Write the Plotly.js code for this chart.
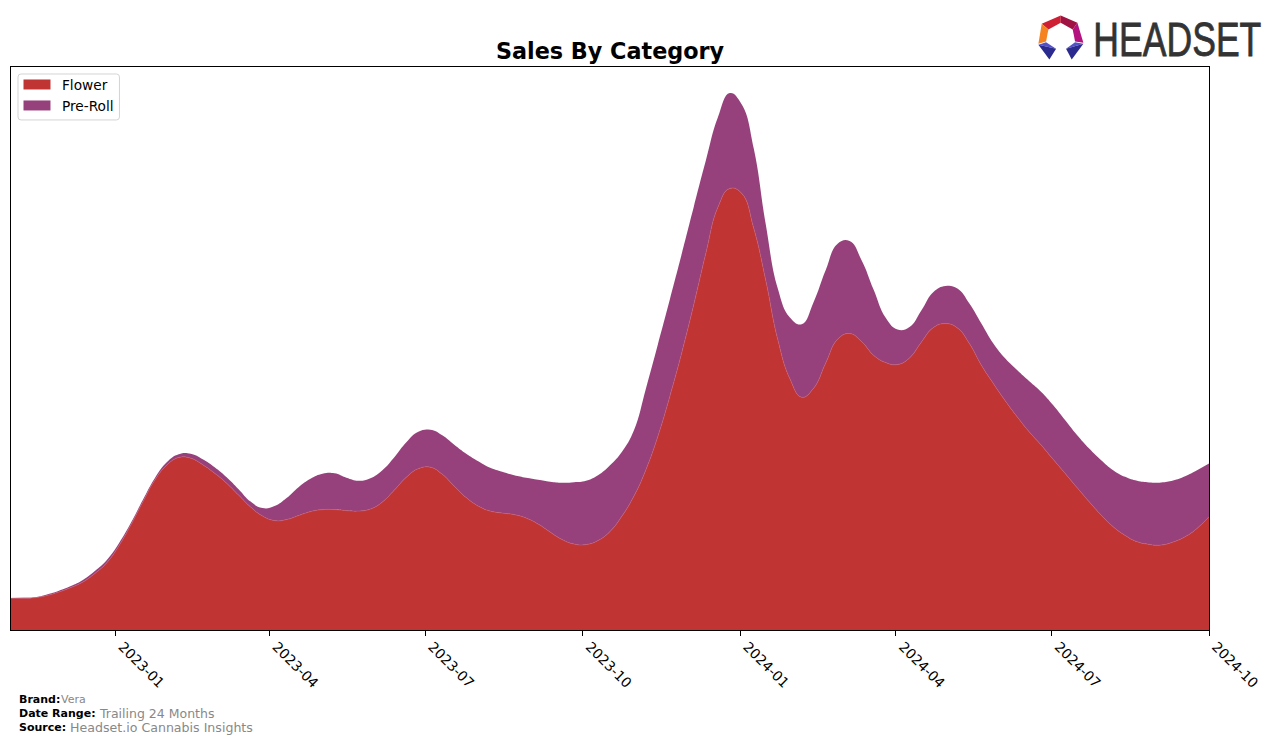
<!DOCTYPE html>
<html>
<head>
<meta charset="utf-8">
<script src="https://cdn.plot.ly/plotly-3.0.1.min.js"></script>
<style>
  html, body { margin: 0; padding: 0; background: #fff; }
</style>
</head>
<body>
<div id="sales_plot"></div>
<script>
var dates = [
    '2022-11-01', '2022-11-08', '2022-11-15', '2022-11-22', '2022-11-29', '2022-12-06', '2022-12-13', '2022-12-20', '2022-12-27',
    '2023-01-03', '2023-01-10', '2023-01-17', '2023-01-24', '2023-01-31', '2023-02-07', '2023-02-14', '2023-02-21', '2023-02-28',
    '2023-03-07', '2023-03-14', '2023-03-21', '2023-03-28', '2023-04-04', '2023-04-11', '2023-04-18', '2023-04-25', '2023-05-02',
    '2023-05-09', '2023-05-16', '2023-05-23', '2023-05-30', '2023-06-06', '2023-06-13', '2023-06-20', '2023-06-27', '2023-07-04',
    '2023-07-11', '2023-07-18', '2023-07-25', '2023-08-01', '2023-08-08', '2023-08-15', '2023-08-22', '2023-08-29', '2023-09-05',
    '2023-09-12', '2023-09-19', '2023-09-26', '2023-10-03', '2023-10-10', '2023-10-17', '2023-10-24', '2023-10-31', '2023-11-07',
    '2023-11-14', '2023-11-21', '2023-11-28', '2023-12-05', '2023-12-12', '2023-12-19', '2023-12-26', '2024-01-02', '2024-01-09',
    '2024-01-16', '2024-01-23', '2024-01-30', '2024-02-06', '2024-02-13', '2024-02-20', '2024-02-27', '2024-03-05', '2024-03-12',
    '2024-03-19', '2024-03-26', '2024-04-02', '2024-04-09', '2024-04-16', '2024-04-23', '2024-04-30', '2024-05-07', '2024-05-14',
    '2024-05-21', '2024-05-28', '2024-06-04', '2024-06-11', '2024-06-18', '2024-06-25', '2024-07-02', '2024-07-09', '2024-07-16',
    '2024-07-23', '2024-07-30', '2024-08-06', '2024-08-13', '2024-08-20', '2024-08-27', '2024-09-03', '2024-09-10', '2024-09-17',
    '2024-09-24', '2024-10-01'
];

var flower = [
    31.7, 31.8, 32.3, 34.5, 38, 42.5, 48, 56.5, 67.3,
    84, 105, 128, 150, 165, 172.7, 172, 165.5, 157,
    147, 135, 123, 114, 109.5, 110.5, 114.5, 118.5, 120.5,
    120.5, 119.5, 119, 121, 128, 140, 153, 161.5, 163,
    156, 144, 132.5, 124, 119, 117, 115.5, 112, 106,
    98, 90.5, 86, 85.5, 89.5, 98.5, 114, 134, 160.5,
    194, 234, 278, 326, 377, 423, 442, 437, 402,
    350, 291, 252, 233, 242, 267, 291, 296.7, 288.7,
    275, 267.7, 265.7, 272.3, 288.3, 302.7, 306.7, 302.3, 286.7,
    265, 246.7, 229.3, 213.3, 198.3, 185, 170.7, 156.7, 142.3,
    128.3, 115, 103.3, 94.7, 88.3, 85.7, 85, 88, 93.3,
    101.7, 113.3
];

var preroll = [
    0.3, 0.4, 0.4, 1, 1.3, 1.5, 2, 2.5, 2.7,
    2.5, 2, 2, 2, 3, 3.3, 4.5, 5.5, 6,
    6, 6, 5.5, 8, 14.5, 21.5, 28.5, 33, 36,
    36.5, 33, 30.5, 31, 32, 33, 35, 37, 37.5,
    39, 41.5, 44, 45, 43.5, 41.5, 39.5, 40.5, 44.5,
    50.5, 57, 62, 64, 65.5, 66.5, 64.5, 66, 81.2,
    92, 97, 99, 98, 93, 90, 95.5, 89, 80,
    56, 51, 61, 73, 86.3, 93, 95.7, 92.6, 81.3,
    65.7, 45, 35, 31, 31.7, 35.6, 37.6, 39.4, 40,
    41.7, 40, 42.4, 46.7, 50.7, 53.3, 54.3, 53.3, 52.7,
    53.4, 55, 56.7, 58.6, 61, 62, 62.7, 61.7, 60.7,
    58.3, 53.4
];

var tick_dates = ['2023-01-01', '2023-04-01', '2023-07-01', '2023-10-01', '2024-01-01', '2024-04-01', '2024-07-01', '2024-10-01'];
var tick_labels = ['2023-01', '2023-04', '2023-07', '2023-10', '2024-01', '2024-04', '2024-07', '2024-10'];

var FONT = 'DejaVu Sans, sans-serif';
var FLOWER_COLOR = '#C03533';
var PREROLL_COLOR = '#97417C';
var W = 1276, H = 743;
var M = { l: 10.5, r: 67, t: 66.5, b: 113 };

// page pixels to paper coordinates, only for the logo, legend box and footer
function px(x) { return (x - M.l) / (W - M.l - M.r); }
function py(y) { return (H - M.b - y) / (H - M.t - M.b); }

function logo_poly(points, color) {
    var d = points.map(function (p, i) {
        var x = 1020 + p[0] / 3, y = 5 + p[1] / 3;
        return (i ? 'L' : 'M') + px(x) + ',' + py(y);
    }).join(' ') + ' Z';
    return { type: 'path', xref: 'paper', yref: 'paper', path: d, fillcolor: color, line: { width: 0 } };
}

function swatch(y0, y1, color) {
    return {
        type: 'rect', xref: 'paper', yref: 'paper',
        x0: px(23), x1: px(50), y0: py(y0), y1: py(y1),
        fillcolor: color, line: { width: 0 }
    };
}

// the legend box has round corners, which layout.legend can't do
function legend_box(x0, y0, x1, y1, r) {
    var d = 'M' + px(x0 + r) + ',' + py(y0) +
        ' L' + px(x1 - r) + ',' + py(y0) +
        ' Q' + px(x1) + ',' + py(y0) + ' ' + px(x1) + ',' + py(y0 + r) +
        ' L' + px(x1) + ',' + py(y1 - r) +
        ' Q' + px(x1) + ',' + py(y1) + ' ' + px(x1 - r) + ',' + py(y1) +
        ' L' + px(x0 + r) + ',' + py(y1) +
        ' Q' + px(x0) + ',' + py(y1) + ' ' + px(x0) + ',' + py(y1 - r) +
        ' L' + px(x0) + ',' + py(y0 + r) +
        ' Q' + px(x0) + ',' + py(y0) + ' ' + px(x0 + r) + ',' + py(y0) + ' Z';
    return {
        type: 'path', xref: 'paper', yref: 'paper', path: d,
        fillcolor: '#fff', line: { color: '#d4d4d4', width: 1 }
    };
}

function note(x, y, text, size, color) {
    return {
        xref: 'paper', yref: 'paper', x: px(x), y: py(y), xanchor: 'left', yanchor: 'middle',
        showarrow: false, text: text, borderpad: 0,
        font: { family: FONT, size: size, color: color }
    };
}

var flower_trace = {
    x: dates,
    y: flower,
    name: 'Flower',
    type: 'scatter',
    mode: 'lines',
    stackgroup: 'sales',
    fillcolor: FLOWER_COLOR,
    line: { color: '#C9596A', width: 0.6, shape: 'spline', smoothing: 1.3 }
};

var preroll_trace = {
    x: dates,
    y: preroll,
    name: 'Pre-Roll',
    type: 'scatter',
    mode: 'lines',
    stackgroup: 'sales',
    fillcolor: PREROLL_COLOR,
    line: { color: PREROLL_COLOR, width: 0, shape: 'spline', smoothing: 1.3 }
};

var layout = {
    width: W,
    height: H,
    autosize: false,
    margin: M,
    paper_bgcolor: '#fff',
    plot_bgcolor: '#fff',
    title: {
        text: '<b>Sales By Category</b>',
        font: { family: FONT, size: 22.3, color: '#000' },
        xref: 'paper', x: 0.5, xanchor: 'center',
        yref: 'container', y: 0.931, yanchor: 'middle'
    },
    showlegend: false,
    xaxis: {
        type: 'date',
        range: ['2022-11-01', '2024-10-01'],
        tickmode: 'array',
        tickvals: tick_dates,
        ticktext: tick_labels,
        tickangle: 45,
        ticklabelshift: 7,
        ticklabelstandoff: -3,
        tickfont: { family: FONT, size: 13.9, color: '#000' },
        ticks: 'outside', ticklen: 5, tickwidth: 1, tickcolor: '#000',
        showgrid: false, zeroline: false,
        showline: true, mirror: true, linecolor: '#000', linewidth: 1
    },
    yaxis: {
        range: [0, 563.5],
        showticklabels: false,
        ticks: '',
        showgrid: false, zeroline: false,
        showline: true, mirror: true, linecolor: '#000', linewidth: 1
    },
    shapes: [
        legend_box(17.5, 73.5, 119, 119.5, 3),
        swatch(79, 89, FLOWER_COLOR),
        swatch(100, 110, PREROLL_COLOR),
        logo_poly([[122, 30], [122, 52], [85, 72], [65, 55]], '#CF1F34'),
        logo_poly([[122, 30], [172, 52], [158, 72], [122, 52]], '#A01242'),
        logo_poly([[65, 55], [85, 72], [78, 108], [55, 115]], '#F58420'),
        logo_poly([[172, 52], [158, 72], [165, 108], [190, 112]], '#B3127F'),
        logo_poly([[55, 118], [78, 110], [108, 130]], '#5450C8'),
        logo_poly([[55, 118], [108, 130], [88, 162]], '#2B2A8E'),
        logo_poly([[190, 115], [165, 110], [138, 130]], '#5450C8'),
        logo_poly([[190, 115], [138, 130], [155, 162]], '#2B2A8E')
    ],
    annotations: [
        {
            xref: 'paper', yref: 'paper', x: px(1177), y: py(39), xanchor: 'center', yanchor: 'middle',
            showarrow: false, text: 'HEADSET', borderpad: 0,
            font: { family: 'Liberation Sans, sans-serif', size: 48, color: '#333' }
        },
        note(60.5, 85, flower_trace.name, 13.7, '#000'),
        note(60.5, 106, preroll_trace.name, 13.7, '#000'),
        note(18, 700, '<b>Brand:</b>', 11, '#000'),
        note(60, 700, 'Vera', 11, '#888'),
        note(18, 713.5, '<b>Date Range:</b>', 11, '#000'),
        note(97.5, 713.5, 'Trailing 24 Months', 12.5, '#888'),
        note(18, 727.5, '<b>Source:</b>', 11, '#000'),
        note(69, 727.5, 'Headset.io Cannabis Insights', 12.6, '#888')
    ]
};

Plotly.newPlot('sales_plot', [flower_trace, preroll_trace], layout, { displayModeBar: false }).then(function () {
    // squeeze the wordmark, none of the installed fonts is this narrow
    var word = document.querySelector('.annotation-text');
    var box = word.getBBox();
    var cx = box.x + box.width / 2;
    word.setAttribute('transform', 'translate(' + cx + ',0) scale(' + (168 / box.width) + ',1) translate(' + (-cx) + ',0)');
    word.style.stroke = '#333';
    word.style.strokeWidth = '0.8px';
});
</script>
</body>
</html>
